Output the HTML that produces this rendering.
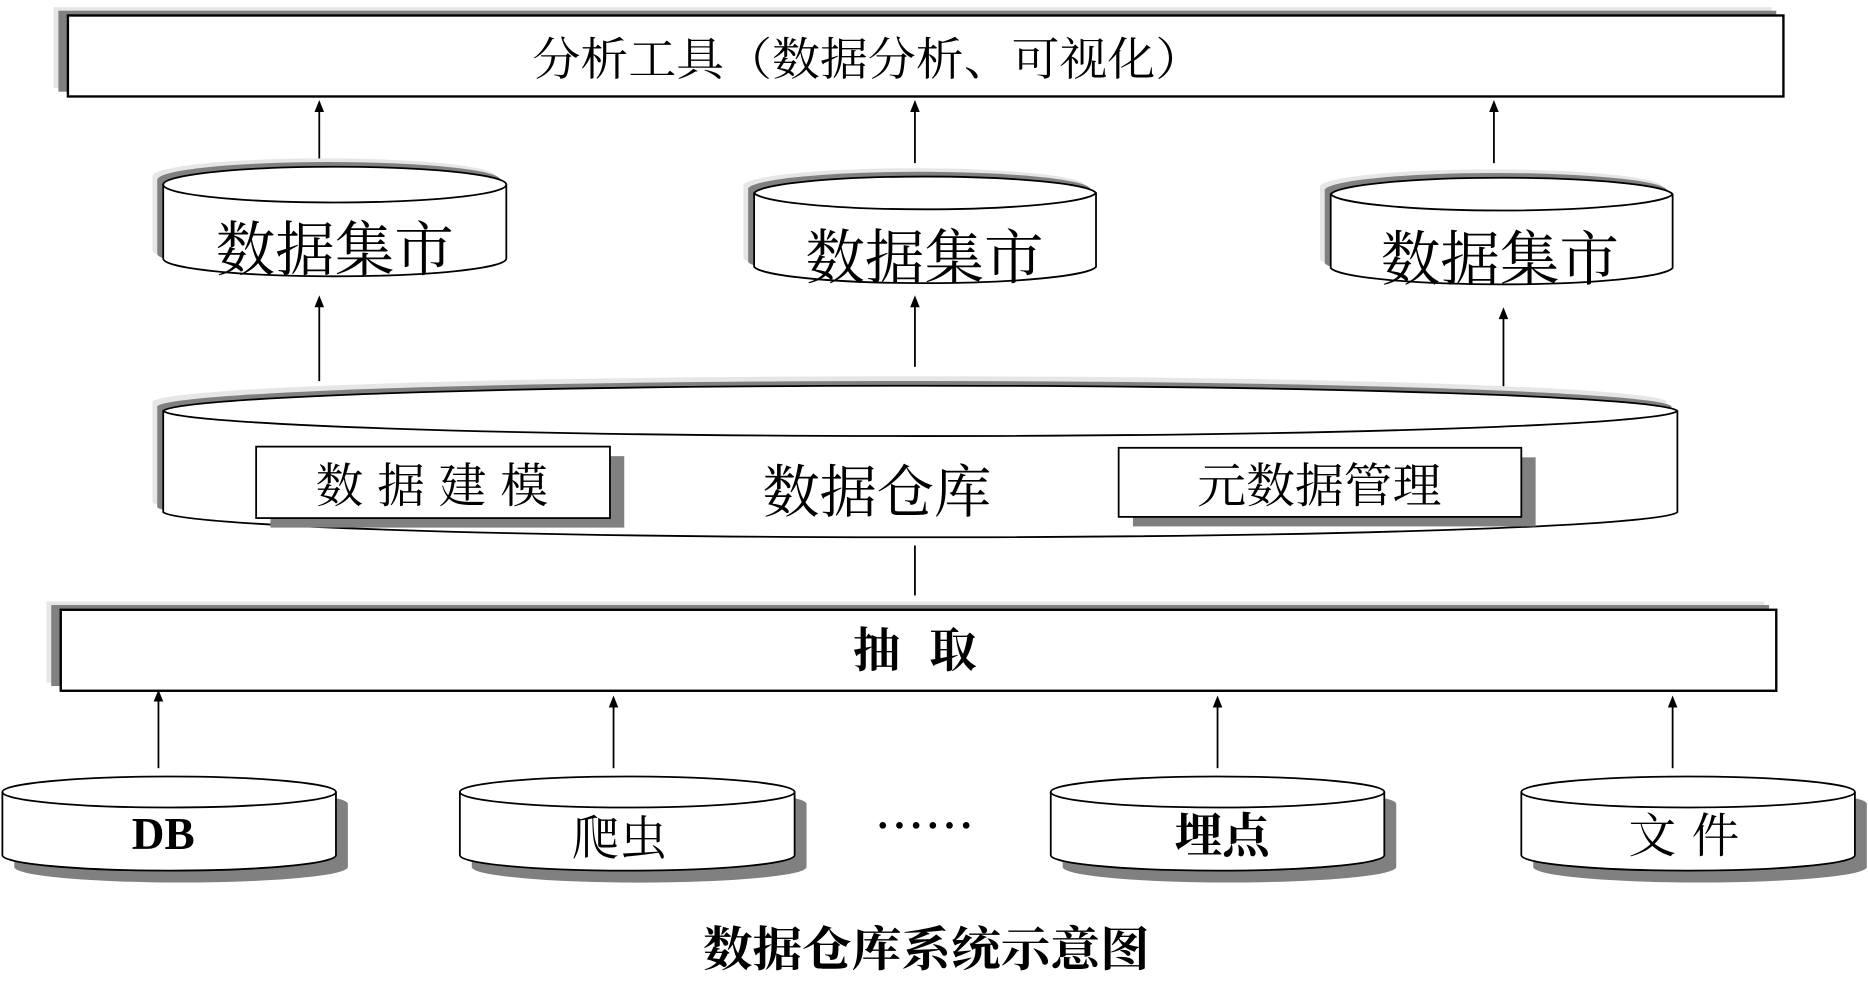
<!DOCTYPE html>
<html><head><meta charset="utf-8"><style>
html,body{margin:0;padding:0;background:#fff;}
svg{display:block}
text{font-family:"Liberation Serif","Noto Serif CJK SC","Noto Sans CJK SC",serif;fill:#000;}
</style></head><body>
<svg width="1868" height="1004" viewBox="0 0 1568 843" preserveAspectRatio="none" xmlns="http://www.w3.org/2000/svg">
<!-- top box -->
<rect x="45" y="6" width="1442" height="68" fill="#e6e6e6"/>
<rect x="49" y="9" width="1442" height="68" fill="#808080"/>
<rect x="57" y="13" width="1440" height="68" fill="#fff" stroke="#000" stroke-width="2"/>
<text x="447" y="63" font-size="38" textLength="563" lengthAdjust="spacingAndGlyphs">分析工具（数据分析、可视化）</text>

<!-- connectors -->
<g stroke="#000" stroke-width="1.5">
<line x1="268" y1="138" x2="268" y2="92"/>
<line x1="768" y1="137" x2="768" y2="92"/>
<line x1="1254" y1="137" x2="1254" y2="92"/>
<line x1="268" y1="320" x2="268" y2="256"/>
<line x1="768" y1="308" x2="768" y2="256"/>
<line x1="1262" y1="335" x2="1262" y2="266"/>
<line x1="768" y1="458" x2="768" y2="500"/>
<line x1="133" y1="645" x2="133" y2="587"/>
<line x1="515" y1="645" x2="515" y2="592"/>
<line x1="1022" y1="645" x2="1022" y2="592"/>
<line x1="1404" y1="645" x2="1404" y2="592"/>
</g>
<g fill="#000">
<polygon points="268,84 264,94 272,94"/>
<polygon points="768,84 764,94 772,94"/>
<polygon points="1254,84 1250,94 1258,94"/>
<polygon points="268,248 264,258 272,258"/>
<polygon points="768,248 764,258 772,258"/>
<polygon points="1262,258 1258,268 1266,268"/>
<polygon points="133,579 129,589 137,589"/>
<polygon points="515,584 511,594 519,594"/>
<polygon points="1022,584 1018,594 1026,594"/>
<polygon points="1404,584 1400,594 1408,594"/>
</g>

<!-- data marts -->
<g>
<path d="M128,148 A144,15 0 0 1 416,148 L416,210 A144,15 0 0 1 128,210 Z" fill="#e6e6e6"/>
<path d="M132,151 A144,15 0 0 1 420,151 L420,213 A144,15 0 0 1 132,213 Z" fill="#808080"/>
<path d="M137,155 A144,15 0 0 1 425,155 L425,217 A144,15 0 0 1 137,217 Z" fill="#fff" stroke="#000" stroke-width="1.5"/>
<path d="M137,155 A144,15 0 0 0 425,155" fill="none" stroke="#000" stroke-width="1.5"/>
<text x="281" y="227" font-size="50" text-anchor="middle">数据集市</text>
</g>
<g>
<path d="M624,155 A144,15 0 0 1 911,155 L911,217 A144,15 0 0 1 624,217 Z" fill="#e6e6e6"/>
<path d="M628,158 A144,15 0 0 1 915,158 L915,220 A144,15 0 0 1 628,220 Z" fill="#808080"/>
<path d="M633,162 A144,15 0 0 1 920,162 L920,224 A144,15 0 0 1 633,224 Z" fill="#fff" stroke="#000" stroke-width="1.5"/>
<path d="M633,162 A144,15 0 0 0 920,162" fill="none" stroke="#000" stroke-width="1.5"/>
<text x="776" y="234" font-size="50" text-anchor="middle">数据集市</text>
</g>
<g>
<path d="M1108,156 A144,15 0 0 1 1395,156 L1395,218 A144,15 0 0 1 1108,218 Z" fill="#e6e6e6"/>
<path d="M1112,159 A144,15 0 0 1 1399,159 L1399,221 A144,15 0 0 1 1112,221 Z" fill="#808080"/>
<path d="M1117,163 A144,15 0 0 1 1404,163 L1404,225 A144,15 0 0 1 1117,225 Z" fill="#fff" stroke="#000" stroke-width="1.5"/>
<path d="M1117,163 A144,15 0 0 0 1404,163" fill="none" stroke="#000" stroke-width="1.5"/>
<text x="1259" y="235" font-size="50" text-anchor="middle">数据集市</text>
</g>

<!-- warehouse -->
<path d="M128,337 A636,22 0 0 1 1399,337 L1399,422 A636,22 0 0 1 128,422 Z" fill="#e6e6e6"/>
<path d="M132,341 A636,22 0 0 1 1403,341 L1403,426 A636,22 0 0 1 132,426 Z" fill="#808080"/>
<path d="M137,345 A636,22 0 0 1 1408,345 L1408,430 A636,22 0 0 1 137,430 Z" fill="#fff" stroke="#000" stroke-width="1.5"/>
<path d="M137,345 A636,22 0 0 0 1408,345" fill="none" stroke="#000" stroke-width="1.5"/>
<text x="640" y="430" font-size="48" textLength="192" lengthAdjust="spacingAndGlyphs">数据仓库</text>

<rect x="227" y="383" width="297" height="60" fill="#808080"/>
<rect x="215" y="375" width="297" height="60" fill="#fff" stroke="#000" stroke-width="1.5"/>
<text x="265" y="422" font-size="40" textLength="195" lengthAdjust="spacing">数据建模</text>
<rect x="951" y="384" width="338" height="58" fill="#808080"/>
<rect x="939" y="376" width="338" height="58" fill="#fff" stroke="#000" stroke-width="1.5"/>
<text x="1005" y="422" font-size="40" textLength="205" lengthAdjust="spacingAndGlyphs">元数据管理</text>

<!-- extraction box -->
<rect x="39" y="505" width="1442" height="68" fill="#e6e6e6"/>
<rect x="43" y="508" width="1442" height="68" fill="#808080"/>
<rect x="51" y="512" width="1440" height="68" fill="#fff" stroke="#000" stroke-width="2"/>
<text x="716" y="560" font-size="40" font-weight="bold" textLength="104" lengthAdjust="spacing">抽取</text>

<!-- sources -->
<g>
<path d="M12,675 A140,13 0 0 1 292,675 L292,728 A140,13 0 0 1 12,728 Z" fill="#808080"/>
<path d="M2,665 A140,13 0 0 1 282,665 L282,718 A140,13 0 0 1 2,718 Z" fill="#fff" stroke="#000" stroke-width="1.5"/>
<path d="M2,665 A140,13 0 0 0 282,665" fill="none" stroke="#000" stroke-width="1.5"/>
<text x="137" y="713" font-size="38" font-weight="bold" text-anchor="middle">DB</text>
</g>
<g>
<path d="M396,675 A140,13 0 0 1 677,675 L677,728 A140,13 0 0 1 396,728 Z" fill="#808080"/>
<path d="M386,665 A140,13 0 0 1 667,665 L667,718 A140,13 0 0 1 386,718 Z" fill="#fff" stroke="#000" stroke-width="1.5"/>
<path d="M386,665 A140,13 0 0 0 667,665" fill="none" stroke="#000" stroke-width="1.5"/>
<text x="520" y="718" font-size="40" text-anchor="middle">爬虫</text>
</g>
<g fill="#000">
<circle cx="741" cy="693" r="2.8"/><circle cx="755" cy="693" r="2.8"/><circle cx="769" cy="693" r="2.8"/>
<circle cx="783" cy="693" r="2.8"/><circle cx="797" cy="693" r="2.8"/><circle cx="811" cy="693" r="2.8"/>
</g>
<g>
<path d="M892,675 A140,13 0 0 1 1172,675 L1172,728 A140,13 0 0 1 892,728 Z" fill="#808080"/>
<path d="M882,665 A140,13 0 0 1 1162,665 L1162,718 A140,13 0 0 1 882,718 Z" fill="#fff" stroke="#000" stroke-width="1.5"/>
<path d="M882,665 A140,13 0 0 0 1162,665" fill="none" stroke="#000" stroke-width="1.5"/>
<text x="1026" y="716" font-size="40" font-weight="bold" text-anchor="middle">埋点</text>
</g>
<g>
<path d="M1287,675 A140,13 0 0 1 1567,675 L1567,728 A140,13 0 0 1 1287,728 Z" fill="#808080"/>
<path d="M1277,665 A140,13 0 0 1 1557,665 L1557,718 A140,13 0 0 1 1277,718 Z" fill="#fff" stroke="#000" stroke-width="1.5"/>
<path d="M1277,665 A140,13 0 0 0 1557,665" fill="none" stroke="#000" stroke-width="1.5"/>
<text x="1367" y="716" font-size="40" textLength="93" lengthAdjust="spacing">文件</text>
</g>

<text x="590" y="811" font-size="40" font-weight="bold" textLength="375" lengthAdjust="spacingAndGlyphs">数据仓库系统示意图</text>
</svg>
</body></html>
